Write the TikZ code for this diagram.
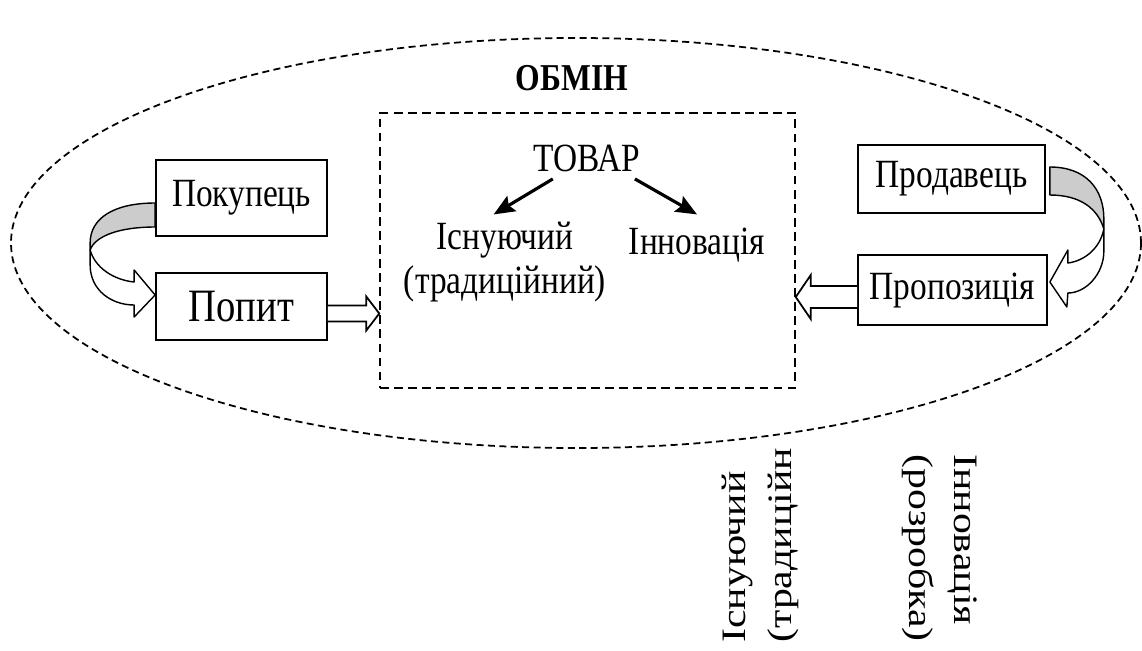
\documentclass[tikz,border=0pt]{standalone}
\usepackage{fontspec}
\setmainfont{Liberation Serif}
\usetikzlibrary{arrows.meta,calc}

\newcommand{\tallbox}[1]{\scalebox{1}[1.2]{#1}}

\tikzset{
  box/.style={draw, line width=1pt, fill=white, inner sep=0pt},
  tall/.style={yscale=1.2},
  ribbon/.style={draw, line width=0.8pt, line join=round},
  hollow/.style={draw, line width=1pt, fill=white},
  goodsarrow/.style={line width=1.8pt, -{Stealth[length=12pt,width=10pt,inset=2pt]}},
}

\begin{document}
\begin{tikzpicture}[x=0.02cm, y=-0.02cm, font=\fontsize{19}{23}\selectfont]
    \useasboundingbox (0,0) rectangle (1142,650);

    % Exchange area
    \draw[line width=1pt, dash pattern=on 4pt off 2.5pt] (576,243) ellipse [x radius=565, y radius=205];
    \node[tall, font=\fontsize{18}{22}\selectfont\bfseries] (obmin) at (572,78) {ОБМІН};
    \node[draw, line width=0.9pt, dash pattern=on 5pt off 3pt, minimum width=8.3cm, minimum height=5.5cm] (market) at (587.5,250.5) {};

    % Goods
    \node[tall] (tovar) at (587,158) {ТОВАР};
    \node[tall, align=center, font=\fontsize{19}{21}\selectfont] (isn) at (505,262) {Існуючий\\(традиційний)};
    \node[tall] (inn) at (697,245) {Інновація};
    \draw[goodsarrow] (tovar.207) -- (isn.106);
    \draw[goodsarrow] (tovar.340) -- ($(inn.north)+(0,-6)$);

    % Buyer side
    \node[box, minimum width=3.42cm, minimum height=1.52cm] (pokupets) at (241.5,198) {\tallbox{Покупець}};
    \node[box, minimum width=3.42cm, minimum height=1.34cm, font=\fontsize{22}{26}\selectfont] (popyt) at (241.5,306.5) {\tallbox{Попит}};

    % Seller side
    \node[box, minimum width=3.74cm, minimum height=1.36cm] (prodavets) at (951.5,179) {\tallbox{Продавець}};
    \node[box, minimum width=3.78cm, minimum height=1.4cm] (propoz) at (952.5,290) {\tallbox{Пропозиція}};

    % Buyer -> demand
    \begin{scope}[shift={(pokupets.west)}]
        \draw[ribbon, fill=gray!40] (0,5) .. controls (-41,5) and (-65,20) .. (-65,45) -- (-65,52) .. controls (-60,38) and (-36,29) .. (0,29) -- cycle;
        \draw[ribbon, fill=white] (-65,52) -- (-65,67) .. controls (-65,92) and (-44,107) .. (-21,107) -- (-21,119) -- (0,97) -- (-21,72) -- (-21,84) .. controls (-41,82) and (-60,70) .. (-65,52) -- cycle;
    \end{scope}

    % Seller -> offer
    \begin{scope}[shift={(prodavets.east)}]
        \draw[ribbon, fill=gray!40] (4,-12) .. controls (40,-12) and (58,10) .. (58,40) -- (58,50) .. controls (52,30) and (35,16) .. (4,16) -- cycle;
        \draw[ribbon, fill=white] (58,50) -- (58,72) .. controls (58,95) and (40,114) .. (22,114) -- (21,128) -- (4,103) -- (22,71) -- (22,84) .. controls (38,82) and (54,70) .. (58,50) -- cycle;
    \end{scope}

    % Demand and offer into the market
    \coordinate (d) at ($(popyt.east)+(0,7)$);
    \coordinate (m) at (market.west |- d);
    \draw[hollow] ($(d)+(0,-8)$) -- ($(m)+(-13,-8)$) -- ($(m)+(-13,-17)$) -- (m) -- ($(m)+(-13,17)$) -- ($(m)+(-13,8)$) -- ($(d)+(0,8)$);
    \coordinate (s) at ($(propoz.west)+(0,7)$);
    \coordinate (n) at (market.east |- s);
    \draw[hollow] ($(s)+(0,-11)$) -- ($(n)+(15,-11)$) -- ($(n)+(15,-22)$) -- (n) -- ($(n)+(15,22)$) -- ($(n)+(15,11)$) -- ($(s)+(0,11)$);

    % Rotated labels below
    \node[yscale=1.22, rotate=90, anchor=north west, align=left, inner sep=0pt, font=\fontsize{19.5}{26}\selectfont] (isnv) at (722,643) {Існуючий\\(традиційн};
    \node[yscale=1.22, rotate=-90, anchor=north west, align=left, inner sep=0pt, font=\fontsize{19.5}{26}\selectfont] (innv) at (978,454) {Інновація\\(розробка)};
\end{tikzpicture}
\end{document}
